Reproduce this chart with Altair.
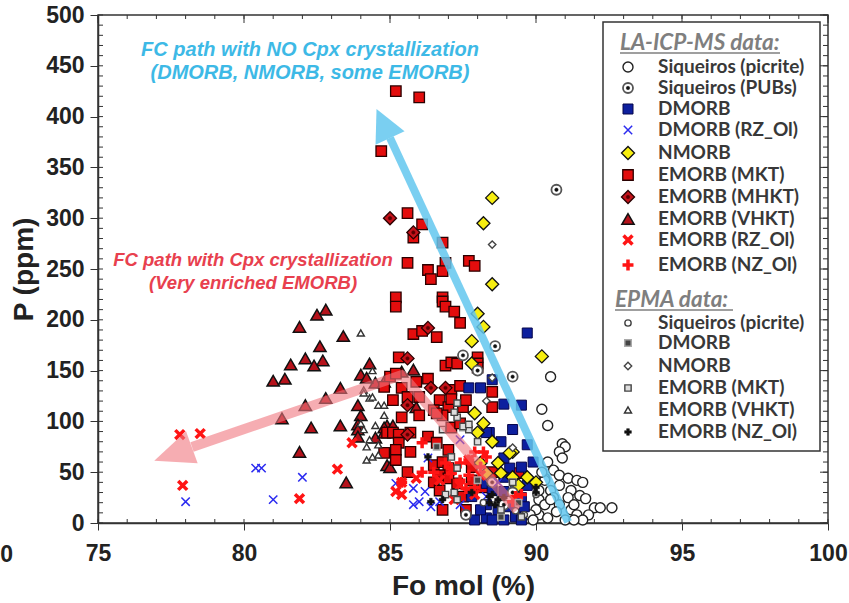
import altair as alt
import pandas as pd

# ---------------- data (Fo mol %, P ppm) ----------------
SIQ_PICRITE = [(90.5,144),(90.2,112),(90.4,96),(90.9,78),(91.0,75),(90.8,70),(90.9,64),(90.4,60),(90.6,52),(90.8,47),
               (91.1,44),(91.4,42),(91.6,40),(90.8,37),(91.2,32),(91.5,27),(91.7,24),(92.0,15),(92.2,15),(92.6,15),
               (90.3,44),(90.5,32),(90.6,25),(90.1,23),(90.3,18),(90.8,18),(91.2,13),(91.4,8),(91.8,8),(90.7,11),
               (90.1,8),(90.4,5),(91.0,3),(91.6,3),(90.0,13),(89.8,8),(90.3,42),(91.1,25),(91.3,18),(90.5,23),
               (90.1,32),(89.9,3),(91.3,3),(90.2,50)]
SIQ_PUBS = [(90.7,328),(88.6,174),(87.5,165),(88.0,150),(89.2,144),(88.5,40),(89.2,30),(88.9,18),(87.6,8)]
DMORB = [(89.7,187),(87.7,133),(88.1,133),(88.9,117),(89.5,116),(89.7,77),(89.9,60),(88.4,89),(88.8,80),(89.5,55),
         (89.1,54),(88.9,45),(88.3,39),(88.5,32),(88.9,31),(89.3,35),(89.7,37),(89.5,25),(88.3,18),(88.7,13),
         (89.1,16),(89.6,16),(88.3,5),(88.5,3),(88.9,3),(89.3,6),(89.5,3),(88.3,89),(87.9,3),(88.1,13),
         (87.8,26),(88.9,64),(89.2,92),(88.5,141)]
DMORB_RZ = [(80.4,54),(80.6,54),(82.0,45),(78.0,21),(81.0,23),(86.3,64),(85.2,39),(85.8,34),(86.2,31),(86.0,21),
            (85.8,18),(86.7,21),(87.4,18),(87.4,82),(86.4,16),(88.7,40),(88.3,26)]
NMORB = [(88.5,320),(88.2,295),(88.5,235),(88.0,206),(88.2,193),(87.8,179),(90.2,164),(87.8,157),(87.9,108),(88.2,98),
         (88.0,89),(88.5,80),(89.2,70),(88.7,59),(88.8,49),(89.2,45),(89.7,45),(89.4,37),(88.1,59),(89.1,69),
         (88.3,49),(90.0,40)]
EMORB_MKT = [(85.2,425),(86.0,419),(84.7,366),(85.6,305),(86.1,294),(85.8,281),(86.8,276),(86.9,256),(87.7,258),(87.9,253),
             (86.3,249),(86.8,248),(86.4,240),(86.8,222),(85.2,222),(85.2,213),(85.6,256),(86.8,218),(86.9,213),(87.2,208),
             (87.4,197),(85.8,186),(86.1,189),(86.6,183),(85.3,163),(86.9,155),(87.1,158),(87.3,157),(88.0,163),(88.0,157),
             (88.0,153),(85.0,144),(85.2,147),(86.3,142),(85.9,139),(84.8,134),(85.4,133),(87.1,131),(87.4,135),(85.1,121),
             (85.6,124),(86.0,124),(86.7,121),(87.0,114),(87.5,114),(87.1,122),(87.6,121),(85.4,104),(86.0,106),(86.5,111),
             (86.8,106),(86.6,108),(87.1,94),(84.9,89),(85.1,89),(85.3,87),(85.7,89),(86.3,85),(86.6,79),(87.0,72),
             (85.3,79),(85.2,72),(85.7,70),(84.8,69),(85.2,62),(86.5,57),(86.8,60),(87.0,54),(86.7,47),(87.0,44),
             (86.5,40),(86.7,32),(87.3,39),(87.8,42),(87.5,26),(87.8,30),(86.8,13),(87.6,13),(87.4,98),(88.5,50),
             (89.4,49),(88.2,35),(88.5,129),(88.5,114),(87.8,55),(85.6,50)]
EMORB_MHKT = [(85.0,300),(85.8,286),(86.3,192),(85.6,162),(86.9,133),(85.6,116),(86.4,133),(85.6,87)]
EMORB_VHKT = [(82.8,210),(82.5,205),(81.9,193),(83.4,184),(82.6,174),(82.1,162),(82.7,160),(81.6,156),(82.4,155),(81.0,140),
              (81.4,142),(84.3,157),(84.0,146),(83.3,133),(82.8,123),(82.1,116),(81.3,103),(82.3,94),(83.3,96),(83.9,116),
              (84.0,106),(83.9,97),(83.9,92),(81.9,70),(83.5,40),(84.5,138),(85.4,149),(85.8,151),(84.2,143),(85.9,114),
              (84.9,96),(85.1,96),(84.5,84),(84.9,57),(83.9,85),(84.8,94),(85.0,55),(84.8,139),(84.8,89)]
EMORB_RZ = [(77.8,87),(78.5,88),(77.9,37),(81.9,24),(83.2,53),(83.7,79),(85.4,40),(85.2,31),(85.4,28),(85.9,44),
            (87.1,52),(87.4,37),(87.7,62),(88.1,47),(87.9,28),(86.7,42),(87.2,23)]
EMORB_NZ = [(86.1,79),(86.1,50),(86.5,50),(87.1,54),(87.4,59),(87.7,62),(87.7,47),(87.9,35),(88.2,70),(89.3,26),
            (89.5,28),(89.2,21),(85.4,40),(87.9,70),(88.3,65),(88.1,55),(87.6,34),(87.1,49),(87.4,42),(86.9,59)]
EPMA_PICRITE = [(88.2,20),(88.8,8),(89.3,12),(90.0,28),(89.6,8)]
EPMA_DMORB = [(87.5,94),(86.6,75),(88.8,6),(89.2,40),(88.0,42),(89.4,20)]
EPMA_NMORB = [(88.5,274),(88.5,143),(89.2,74),(88.3,120)]
EPMA_MKT = [(86.8,92),(87.3,104),(87.3,54),(87.2,30),(87.3,23),(87.7,92),(87.3,118),(87.2,109),(87.5,95),(87.7,97),
            (87.1,65),(89.2,40),(88.8,13),(89.5,6),(88.0,80),(86.9,28)]
EPMA_VHKT = [(84.0,187),(84.4,150),(84.1,131),(84.3,123),(84.6,116),(84.0,98),(84.1,92),(84.2,75),(84.2,62),(84.4,65),
             (84.5,96),(84.6,77),(84.1,128),(84.4,124),(84.8,116),(84.8,106),(84.6,67),(84.3,82)]
EPMA_NZ = [(86.3,65),(86.8,23),(87.8,30),(90.0,35),(90.0,30),(86.4,21),(88.4,26),(88.5,28),(88.4,20),(88.7,23),
           (88.6,18),(88.9,25)]

# arrows (path points in data units)
BLUE_ARROW = [(91.1, 1), (85.0, 379)]
BLUE_HEAD = (84.77, 393.3)
RED_ARROW = [(89.35, 12.8), (85.41, 145.7), (78.22, 74.8)]
RED_HEAD = (77.57, 67.9)

# annotations
BLUE_TEXT = [(82.26, 465.6, "FC path with NO Cpx crystallization"), (82.26, 443.0, "(DMORB, NMORB, some EMORB)")]
RED_TEXT = [(80.31, 259.0, "FC path with Cpx crystallization"), (80.31, 236.0, "(Very enriched EMORB)")]

FO_MAJOR = [75, 80, 85, 90, 95, 100]
P_MAJOR = [0, 50, 100, 150, 200, 250, 300, 350, 400, 450, 500]
FO_MINOR = list(range(75, 101))
P_MINOR = list(range(0, 501, 10))

LEGEND_LA = ["Siqueiros (picrite)", "Siqueiros (PUBs)", "DMORB", "DMORB (RZ_Ol)", "NMORB",
             "EMORB (MKT)", "EMORB (MHKT)", "EMORB (VHKT)", "EMORB (RZ_Ol)", "EMORB (NZ_Ol)"]
LEGEND_EPMA = ["Siqueiros (picrite)", "DMORB", "NMORB", "EMORB (MKT)", "EMORB (VHKT)", "EMORB (NZ_Ol)"]

# ---------------- styles ----------------
XS = "M-1,-1L1,1M-1,1L1,-1"
PL = "M-1,0L1,0M0,-1L0,1"
STY = {
    "picrite": [dict(shape="circle", size=100, fill="white", stroke="#222222", strokeWidth=1.4)],
    "pubs": [dict(shape="circle", size=100, fill="white", stroke="#555555", strokeWidth=1.8),
             dict(shape="circle", size=12, fill="#111111", stroke="#111111", strokeWidth=0.5)],
    "dmorb": [dict(shape="square", size=100, fill="#0d1f9e", stroke="#06064a", strokeWidth=1)],
    "dmorb_rz": [dict(shape=XS, size=70, fill="transparent", stroke="#2b2bf0", strokeWidth=1.5)],
    "nmorb": [dict(shape="diamond", size=170, fill="#f7ee10", stroke="#111111", strokeWidth=1.3)],
    "mkt": [dict(shape="square", size=110, fill="#e30d0d", stroke="#2a0000", strokeWidth=1.3)],
    "mhkt": [dict(shape="diamond", size=170, fill="#c4121a", stroke="#2a0000", strokeWidth=1.3),
             dict(shape="circle", size=12, fill="#5a0000", stroke="#5a0000", strokeWidth=0.5)],
    "vhkt": [dict(shape="triangle-up", size=150, fill="#b5121b", stroke="#111111", strokeWidth=1.5)],
    "rz": [dict(shape=XS, size=80, fill="transparent", stroke="#ff1414", strokeWidth=3.5)],
    "nz": [dict(shape=PL, size=120, fill="transparent", stroke="#ff1414", strokeWidth=3.5)],
    "e_picrite": [dict(shape="circle", size=40, fill="white", stroke="#444444", strokeWidth=1.4)],
    "e_dmorb": [dict(shape="square", size=42, fill="#444444", stroke="#aaaaaa", strokeWidth=1.5)],
    "e_nmorb": [dict(shape="diamond", size=55, fill="white", stroke="#444444", strokeWidth=1.4)],
    "e_mkt": [dict(shape="square", size=40, fill="#dddddd", stroke="#444444", strokeWidth=1.4)],
    "e_vhkt": [dict(shape="triangle-up", size=50, fill="white", stroke="#333333", strokeWidth=1.4)],
    "e_nz": [dict(shape="cross", size=45, fill="#111111", stroke="#111111", strokeWidth=0.5)],
}

FONT_AX = "Liberation Sans"
X = alt.X("Fo:Q", scale=alt.Scale(domain=[75, 100], nice=False, zero=False),
          axis=alt.Axis(values=FO_MAJOR, title="Fo mol (%)", tickSize=7, labelPadding=12,
                        labelFontSize=23, labelFontWeight="bold", labelFont=FONT_AX,
                        titleFontSize=28, titleFontWeight="bold", titleFont=FONT_AX, titlePadding=7,
                        labelFlush=False, labelOverlap=False, grid=False))
Y = alt.Y("P:Q", scale=alt.Scale(domain=[0, 500], nice=False),
          axis=alt.Axis(values=P_MAJOR, title="P (ppm)", tickSize=8, labelPadding=6,
                        labelFontSize=23, labelFontWeight="bold", labelFont=FONT_AX,
                        titleFontSize=28, titleFontWeight="bold", titleFont=FONT_AX, titlePadding=7,
                        labelFlush=False, labelOverlap=False, grid=False))

DUMMY = pd.DataFrame({"d": [0]})


def series(data, key):
    df = pd.DataFrame(data, columns=["Fo", "P"])
    return [alt.Chart(df).mark_point(filled=True, opacity=1, **s).encode(x=X, y=Y) for s in STY[key]]


def legend_sym(key, px, py):
    return [alt.Chart(DUMMY).mark_point(filled=True, opacity=1, **s).encode(x=alt.value(px), y=alt.value(py))
            for s in STY[key]]


def ltext(txt, px, py, size=19, color="#383838", italic=False, font="Lato", align="left"):
    return alt.Chart(DUMMY).mark_text(align=align, baseline="middle", fontSize=size, fontWeight="bold",
                                      fontStyle="italic" if italic else "normal", font=font,
                                      color=color, text=txt).encode(x=alt.value(px), y=alt.value(py))


layers = []
# inner ticks
fo_df = pd.DataFrame({"Fo": FO_MINOR})
p_df = pd.DataFrame({"P": P_MINOR})
fo5 = pd.DataFrame({"Fo": FO_MAJOR})
p50 = pd.DataFrame({"P": P_MAJOR})
TC = "#333333"
layers.append(alt.Chart(fo_df).mark_rule(color=TC, strokeWidth=1).encode(x=X, y=alt.value(508), y2=alt.value(504)))
layers.append(alt.Chart(fo_df).mark_rule(color=TC, strokeWidth=1).encode(x=X, y=alt.value(0), y2=alt.value(4)))
layers.append(alt.Chart(fo5).mark_rule(color=TC, strokeWidth=1).encode(x=X, y=alt.value(0), y2=alt.value(8)))
layers.append(alt.Chart(p_df).mark_rule(color=TC, strokeWidth=1).encode(y=Y, x=alt.value(0), x2=alt.value(5)))
layers.append(alt.Chart(p_df).mark_rule(color=TC, strokeWidth=1).encode(y=Y, x=alt.value(730), x2=alt.value(725)))
layers.append(alt.Chart(p50).mark_rule(color=TC, strokeWidth=1).encode(y=Y, x=alt.value(730), x2=alt.value(722)))

# data
layers += series(SIQ_PICRITE, "picrite")
layers += series(EMORB_VHKT, "vhkt")
layers += series(EMORB_MKT, "mkt")
layers += series(EMORB_MHKT, "mhkt")
layers += series(DMORB, "dmorb")
layers += series(NMORB, "nmorb")
layers += series(SIQ_PUBS, "pubs")
layers += series(DMORB_RZ, "dmorb_rz")
layers += series(EMORB_RZ, "rz")
layers += series(EMORB_NZ, "nz")
layers += series(EPMA_PICRITE, "e_picrite")
layers += series(EPMA_DMORB, "e_dmorb")
layers += series(EPMA_NMORB, "e_nmorb")
layers += series(EPMA_MKT, "e_mkt")
layers += series(EPMA_VHKT, "e_vhkt")
layers += series(EPMA_NZ, "e_nz")

# arrows
BLUE = "#63c7ee"
PINK = "#f0777e"
ba = pd.DataFrame(BLUE_ARROW, columns=["Fo", "P"]).assign(i=range(len(BLUE_ARROW)))
ra = pd.DataFrame(RED_ARROW, columns=["Fo", "P"]).assign(i=range(len(RED_ARROW)))
layers.append(alt.Chart(ra).mark_line(color=PINK, strokeWidth=10, opacity=0.6, strokeCap="butt",
                                      strokeJoin="round").encode(x=X, y=Y, order="i:Q"))
layers.append(alt.Chart(pd.DataFrame([RED_HEAD], columns=["Fo", "P"])).mark_point(
    shape="M0,-1L0.85,1L-0.85,1Z", size=1600, angle=250, filled=True, fill=PINK, opacity=0.6,
    strokeWidth=0).encode(x=X, y=Y))
layers.append(alt.Chart(ba).mark_line(color=BLUE, strokeWidth=8, opacity=0.85, strokeCap="butt").encode(
    x=X, y=Y, order="i:Q"))
layers.append(alt.Chart(pd.DataFrame([BLUE_HEAD], columns=["Fo", "P"])).mark_point(
    shape="M0,-1L1,1L-1,1Z", size=1024, angle=335, filled=True, fill=BLUE, opacity=0.85,
    strokeWidth=0).encode(x=X, y=Y))

# annotations
bt = pd.DataFrame(BLUE_TEXT, columns=["Fo", "P", "t"])
rt = pd.DataFrame(RED_TEXT, columns=["Fo", "P", "t"])
layers.append(alt.Chart(bt).mark_text(font=FONT_AX, fontSize=20, fontWeight="bold", fontStyle="italic",
                                      color="#3db9e6", align="center", baseline="middle").encode(x=X, y=Y, text="t:N"))
layers.append(alt.Chart(rt).mark_text(font=FONT_AX, fontSize=18.5, fontWeight="bold", fontStyle="italic",
                                      color="#e8404e", align="center", baseline="middle").encode(x=X, y=Y, text="t:N"))

# legend
layers.append(alt.Chart(DUMMY).mark_rect(fill="white", stroke="#333333", strokeWidth=1.5).encode(
    x=alt.value(505), x2=alt.value(722), y=alt.value(7), y2=alt.value(436)))
layers.append(ltext("LA-ICP-MS data:", 522, 28, size=22.5, color="#7f7f7f", italic=True))
layers.append(alt.Chart(DUMMY).mark_rule(color="#7f7f7f", strokeWidth=1.5).encode(
    x=alt.value(522), x2=alt.value(682), y=alt.value(38)))
la_keys = ["picrite", "pubs", "dmorb", "dmorb_rz", "nmorb", "mkt", "mhkt", "vhkt", "rz", "nz"]
la_y = [52, 73, 94, 115, 138, 160, 182, 204, 225, 250]
for k, lab, yy in zip(la_keys, LEGEND_LA, la_y):
    layers += legend_sym(k, 530, yy)
    layers.append(ltext(lab, 560, yy))
layers.append(ltext("EPMA data:", 517, 285, size=22.5, color="#7f7f7f", italic=True))
layers.append(alt.Chart(DUMMY).mark_rule(color="#7f7f7f", strokeWidth=1.5).encode(
    x=alt.value(517), x2=alt.value(635), y=alt.value(295)))
ep_keys = ["e_picrite", "e_dmorb", "e_nmorb", "e_mkt", "e_vhkt", "e_nz"]
ep_y = [308, 328, 351, 373, 395, 417]
for k, lab, yy in zip(ep_keys, LEGEND_EPMA, ep_y):
    layers += legend_sym(k, 530, yy)
    layers.append(ltext(lab, 560, yy))

# cut-off tick label at far left
layers.append(ltext("70", -85, 540, size=23, color="#222222", font=FONT_AX, align="right"))

chart = alt.layer(*layers).properties(
    width=730, height=508,
    autosize=alt.AutoSizeParams(type="none"),
    padding={"left": 98, "top": 15, "right": 21, "bottom": 80},
    background="white",
).configure_view(stroke="#333333", strokeWidth=1.5).configure_axis(
    domainColor="#333333", tickColor="#333333", labelColor="#222222", titleColor="#222222", domainWidth=1.5)

chart.save("out.html", embed_options={"renderer": "svg", "actions": False})
